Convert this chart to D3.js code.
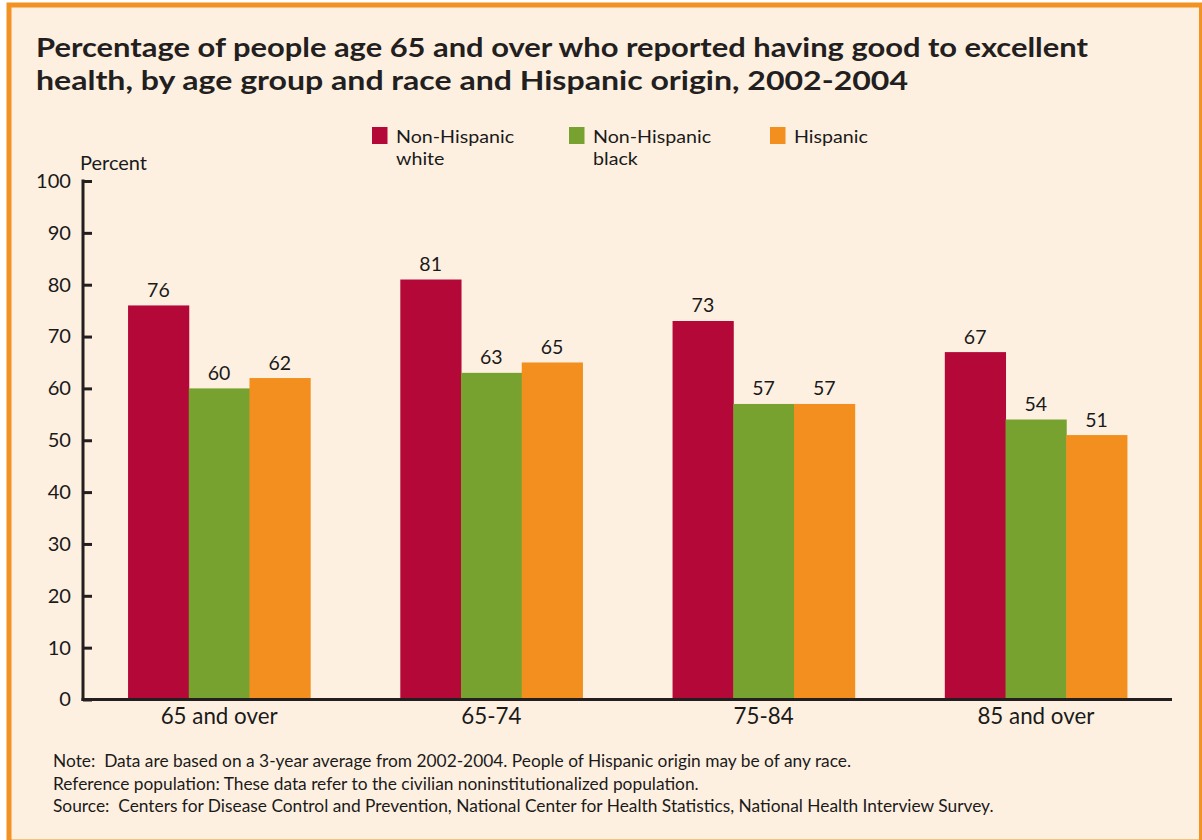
<!DOCTYPE html>
<html><head><meta charset="utf-8">
<script src="https://cdn.jsdelivr.net/npm/d3@7"></script>
<style>
html,body{margin:0;padding:0;background:#fff;}
svg{display:block;}
text{font-family:Lato,"Open Sans",sans-serif;fill:#1a1a1a;}
</style></head>
<body>
<svg id="chart" width="1202" height="840"></svg>
<script>
const categories = ["65 and over", "65-74", "75-84", "85 and over"];
const seriesNames = ["Non-Hispanic white", "Non-Hispanic black", "Hispanic"];
const legendLines = [["Non-Hispanic", "white"], ["Non-Hispanic", "black"], ["Hispanic"]];
const whiteValues = [76, 81, 73, 67];
const blackValues = [60, 63, 57, 54];
const hispanicValues = [62, 65, 57, 51];
const yTicks = [0, 10, 20, 30, 40, 50, 60, 70, 80, 90, 100];
const colors = ["#B30838", "#77A22F", "#F28F1E"];
const titleLines = ["Percentage of people age 65 and over who reported having good to excellent",
  "health, by age group and race and Hispanic origin, 2002-2004"];
const titleWidths = [1052, 872];
const notes = ["Note:  Data are based on a 3-year average from 2002-2004. People of Hispanic origin may be of any race.",
  "Reference population: These data refer to the civilian noninstitutionalized population.",
  "Source:  Centers for Disease Control and Prevention, National Center for Health Statistics, National Health Interview Survey."];

// set font size of a selection so that its first node reaches a target width
function fitSize(sel, base, target) {
  sel.style("font-size", base + "px");
  const w = sel.node().getComputedTextLength();
  const s = base * target / w;
  sel.style("font-size", s + "px");
  return s;
}

const svg = d3.select("#chart");
// background panel + border
svg.append("rect").attr("x", 9).attr("y", 5).attr("width", 1192.5).attr("height", 837)
  .attr("fill", "#FEF0E1").attr("stroke", "#F29222").attr("stroke-width", 5);

// title
svg.append("g").selectAll("text").data(titleLines).join("text")
  .attr("x", 36).attr("y", (d, i) => 57 + i * 33)
  .attr("textLength", (d, i) => titleWidths[i]).attr("lengthAdjust", "spacingAndGlyphs")
  .style("font-size", "27px").style("font-weight", "700").style("fill", "#231F20")
  .text(d => d);

const data = categories.map((c, i) => ({cat: c, vals: [whiteValues[i], blackValues[i], hispanicValues[i]]}));

const x0 = d3.scaleBand().domain(categories).range([83, 1172]).paddingInner(0.331).paddingOuter(0.1655);
const x1 = d3.scaleBand().domain(d3.range(seriesNames.length)).range([0, x0.bandwidth()]);
const y = d3.scaleLinear().domain([0, 100]).range([699.5, 181]);

// bars
const groups = svg.append("g").selectAll("g").data(data).join("g")
  .attr("transform", d => `translate(${x0(d.cat)},0)`);
groups.selectAll("rect").data(d => d.vals).join("rect")
  .attr("x", (d, i) => x1(i)).attr("width", x1.bandwidth() + 0.5)
  .attr("y", d => y(d)).attr("height", d => y(0) - y(d))
  .attr("fill", (d, i) => colors[i]);
const valueLabels = groups.selectAll("text").data(d => d.vals).join("text")
  .attr("x", (d, i) => x1(i) + x1.bandwidth() / 2).attr("y", d => y(d) - 8.5)
  .attr("text-anchor", "middle")
  .text(d => d);

// y axis
const yAxis = d3.axisLeft(y).tickValues(yTicks).tickSize(-9).tickPadding(12).tickSizeOuter(0);
const gy = svg.append("g").attr("transform", "translate(83,0)").call(yAxis);
gy.select(".domain").attr("stroke", "#231F20").attr("stroke-width", 3)
  .attr("d", `M0,${y(100) - 1.5}V${y(0) + 1.5}`);
gy.selectAll(".tick line").attr("stroke", "#231F20").attr("stroke-width", 3);
const yt = gy.selectAll(".tick text").style("font-family", "Lato,sans-serif").attr("fill", "#1a1a1a");
const ys = fitSize(yt.filter(d => d === 100), 20, 35);
yt.style("font-size", ys + "px");
valueLabels.style("font-size", (ys * 0.97) + "px");

// x axis
const xAxis = d3.axisBottom(x0).tickSize(0).tickPadding(9).tickSizeOuter(0);
const gx = svg.append("g").attr("transform", `translate(0,${y(0)})`).call(xAxis);
gx.select(".domain").attr("stroke", "#231F20").attr("stroke-width", 3)
  .attr("d", `M${83 - 1.5},0H1172`);
const xt = gx.selectAll(".tick text").style("font-family", "Lato,sans-serif").attr("fill", "#1a1a1a").attr("dy", "0.71em");
const xs = fitSize(xt.filter(d => d === "85 and over"), 20, 117);
xt.style("font-size", xs + "px");

// y label
const pl = svg.append("text").attr("x", 80).attr("y", 170).text("Percent");
fitSize(pl, 18, 67);

// legend
const legendX = [372, 569, 770];
const lg = svg.append("g").selectAll("g").data(legendLines).join("g")
  .attr("transform", (d, i) => `translate(${legendX[i]},127)`);
lg.append("rect").attr("width", 15.5).attr("height", 17).attr("fill", (d, i) => colors[i]);
const lt = lg.append("g").attr("class", "lt");
lt.selectAll("text").data(d => d).join("text")
  .attr("x", 0).attr("y", (d, i) => 16 + i * 22)
  .style("font-size", "18.2px").text(d => d);
const refW = lt.select("text").node().getComputedTextLength();
lt.attr("transform", `translate(24,0) scale(${118 / refW},1)`);

// notes
const nt = svg.append("g").selectAll("text").data(notes).join("text")
  .attr("x", 53).attr("y", (d, i) => 767 + i * 22.5)
  .style("white-space", "pre").text(d => d);
const ns = fitSize(nt.filter((d, i) => i === 0), 16, 799);
nt.style("font-size", ns + "px");
</script>
</body></html>
